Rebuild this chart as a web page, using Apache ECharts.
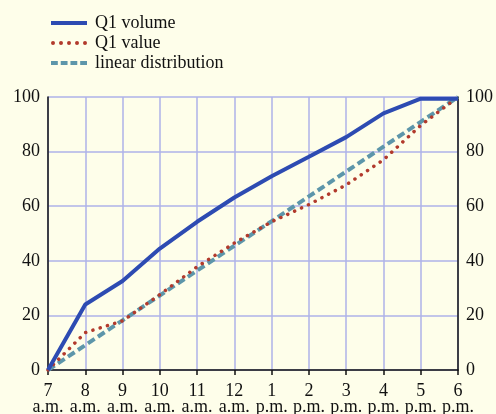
<!DOCTYPE html>
<html>
<head>
<meta charset="utf-8">
<script src="https://cdn.jsdelivr.net/npm/echarts@6/dist/echarts.min.js"></script>
<style>
  html, body { margin: 0; padding: 0; background: #fefeea; }
  #chart { width: 496px; height: 414px; }
</style>
</head>
<body>
<div id="chart"></div>
<script>
// hours along the day
const hours = ["7\na.m.", "8\na.m.", "9\na.m.", "10\na.m.", "11\na.m.", "12\na.m.",
  "1\np.m.", "2\np.m.", "3\np.m.", "4\np.m.", "5\np.m.", "6\np.m."];

const q1Volume = [0, 24, 32.6, 44.5, 54.3, 63.2, 71, 78.1, 85.3, 94, 99.4, 99.4];
const q1Value = [0, 13.7, 18, 27.6, 37.8, 46.5, 54.3, 60.6, 67.8, 77, 89.6, 100];
const linearDist = [0, 9.1, 18.2, 27.3, 36.4, 45.5, 54.5, 63.6, 72.7, 81.8, 90.9, 100];

const font = "'Liberation Serif', 'Times New Roman', serif";
const gridColor = "#aeb2e8";

// legend icons: solid, dotted, dashed
function dots() {
    let p = "path://";
    for (let cx = 2; cx < 36; cx += 8) {
        p += "M" + (cx - 2) + ",2A2,2 0 1,1 " + (cx + 2) + ",2A2,2 0 1,1 " + (cx - 2) + ",2Z";
    }
    return p;
}
function dashes() {
    let p = "path://";
    for (let x = 0; x < 36; x += 10) {
        p += "M" + x + ",0H" + (x + 7) + "V4H" + x + "Z";
    }
    return p;
}

const chart = echarts.init(document.getElementById("chart"));

const options = {
    backgroundColor: "#fefeea",
    animation: false,
    textStyle: { fontFamily: font },
    legend: {
        orient: "vertical",
        left: 46,
        top: 9,
        itemWidth: 36,
        itemHeight: 4,
        itemGap: 2,
        itemStyle: { borderWidth: 0 },
        textStyle: { fontFamily: font, fontSize: 18, color: "#111", padding: [0, 0, 0, 3] },
        data: [
            { name: "Q1 volume", icon: "path://M0,0H36V4H0Z" },
            { name: "Q1 value", icon: dots() },
            { name: "linear distribution", icon: dashes() }
        ]
    },
    grid: { left: 48, right: 38, top: 97, bottom: 44, outerBoundsMode: "none" },
    xAxis: {
        type: "category",
        boundaryGap: false,
        data: hours,
        offset: 3,
        axisLine: { lineStyle: { color: "#111", width: 1.5 } },
        axisTick: { length: 5, lineStyle: { color: "#111", width: 1.5 } },
        axisLabel: { fontFamily: font, fontSize: 18, color: "#111", lineHeight: 16, margin: 10, interval: 0 },
        splitLine: { show: true, lineStyle: { color: gridColor, width: 1.5 } }
    },
    yAxis: [
        {
            type: "value",
            min: 0, max: 100, interval: 20,
            position: "left",
            axisLine: { show: true, lineStyle: { color: "#111", width: 1.5 } },
            axisTick: { show: false },
            axisLabel: { fontFamily: font, fontSize: 18, color: "#111", margin: 8 },
            splitLine: { lineStyle: { color: gridColor, width: 1.5 } }
        },
        {
            type: "value",
            min: 0, max: 100, interval: 20,
            position: "right",
            axisLine: { show: true, lineStyle: { color: "#111", width: 1.5 } },
            axisTick: { show: false },
            axisLabel: { fontFamily: font, fontSize: 18, color: "#111", margin: 8 },
            splitLine: { show: false }
        }
    ],
    series: [
        {
            name: "Q1 volume",
            type: "line",
            data: q1Volume,
            symbol: "none",
            lineStyle: { color: "#2d4bb2", width: 4 },
            itemStyle: { color: "#2d4bb2" },
            z: 4
        },
        {
            name: "Q1 value",
            type: "line",
            data: q1Value,
            symbol: "none",
            lineStyle: { color: "#b23a2c", width: 3.5, type: [0.1, 7.5], cap: "round" },
            itemStyle: { color: "#b23a2c" },
            z: 3
        },
        {
            name: "linear distribution",
            type: "line",
            data: linearDist,
            symbol: "none",
            lineStyle: { color: "#5d96aa", width: 4, type: [8, 4] },
            itemStyle: { color: "#5d96aa" },
            z: 2
        }
    ]
};

chart.setOption(options);
</script>
</body>
</html>
